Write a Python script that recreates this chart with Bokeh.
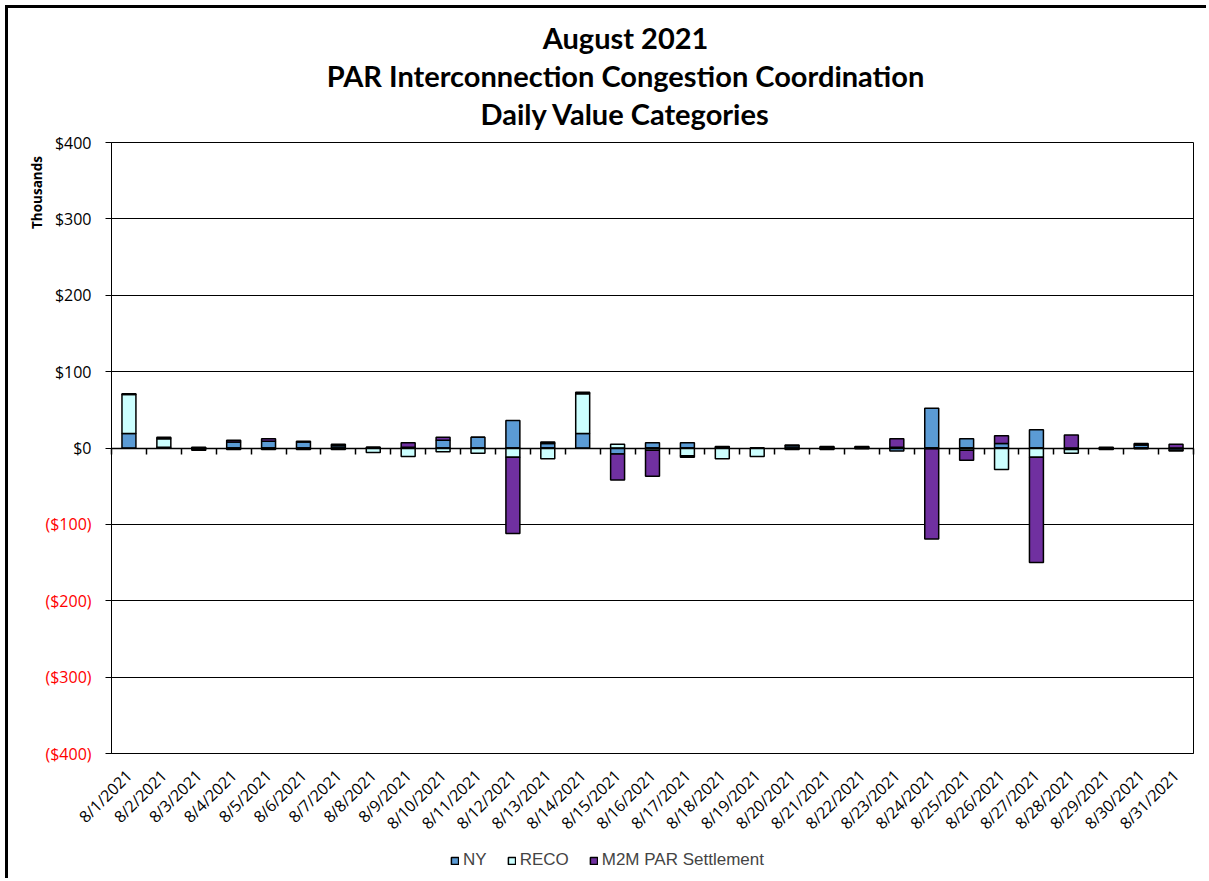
import math
from bokeh.plotting import figure
from bokeh.models import (ColumnDataSource, FixedTicker, LinearAxis, Range1d, Label,
                          Legend, LegendItem, Grid)
from bokeh.embed import file_html
from bokeh.resources import INLINE

# ---------------- data (thousands of $) ----------------
dates = ["8/1/2021", "8/2/2021", "8/3/2021", "8/4/2021", "8/5/2021", "8/6/2021",
         "8/7/2021", "8/8/2021", "8/9/2021", "8/10/2021", "8/11/2021", "8/12/2021",
         "8/13/2021", "8/14/2021", "8/15/2021", "8/16/2021", "8/17/2021", "8/18/2021",
         "8/19/2021", "8/20/2021", "8/21/2021", "8/22/2021", "8/23/2021", "8/24/2021",
         "8/25/2021", "8/26/2021", "8/27/2021", "8/28/2021", "8/29/2021", "8/30/2021",
         "8/31/2021"]
ny = [19, 1, 1, 8, 9, 8, 3, 1, 1, 10, 14, 36, 6, 19, -8, 7, 7, 1, 0, 3, 1, 1, -4,
      52, 12, 6, 24, -2, 1, 4, -3]
reco = [51, 11, -1, -2, -2, -2, -2, -6, -11, -5, -7, -12, -14, 52, 5, -3, -10, -14,
        -11, -2, -2, -1, 1, -1, -3, -28, -12, -5, -1, -1, -1]
m2m = [1, 2, -2, 2, 3, 1, 2, 0, 6, 4, 0, -100, 2, 2, -34, -34, -2, 1, 0, 1, 1, 1, 11,
       -118, -13, 10, -138, 17, -1, 2, 5]
series_names = ["NY", "RECO", "M2M PAR Settlement"]
series_colors = ["#5B9BD5", "#CCFFFF", "#7030A0"]
y_ticks = [-400, -300, -200, -100, 0, 100, 200, 300, 400]
y_tick_labels = ["($400)", "($300)", "($200)", "($100)", "$0", "$100", "$200", "$300", "$400"]
title_lines = ["August 2021", "PAR Interconnection Congestion Coordination",
               "Daily Value Categories"]
y_title = "Thousands"

TICK_FONT = "Open Sans"
TITLE_FONT = "Lato"

try:
    Label(x_units="canvas")
    UNITS = "canvas"
except Exception:
    UNITS = "screen"

# ---------------- layout (canvas pixels) ----------------
W, H = 1201, 873                 # canvas size (page offset 8 px by margin + border)
FL, FR, FT, FB = 103, 1185, 134, 745   # chart area edges on the canvas

n = len(dates)
x = list(range(1, n + 1))
XMIN, XMAX = 0.5, n + 0.5
YMIN, YMAX = y_ticks[0], y_ticks[-1]
xpp = (XMAX - XMIN) / (FR - FL)
ypp = (YMAX - YMIN) / (FB - FT)

p = figure(width=W, height=H,
           x_range=Range1d(XMIN - FL * xpp, XMAX + (W - FR) * xpp),
           y_range=Range1d(YMIN - (H - FB) * ypp, YMAX + FT * ypp),
           output_backend="svg", toolbar_location=None,
           x_axis_type=None, y_axis_type=None, min_border=0)
p.background_fill_color = "white"
p.border_fill_color = "white"
p.outline_line_color = None
p.styles = {"margin-left": "5px", "margin-top": "5px",
            "border-left": "3px solid black", "border-top": "3px solid black"}

# horizontal gridlines across the chart area
try:
    grid = Grid(dimension=1, ticker=FixedTicker(ticks=y_ticks), cross_bounds=(XMIN, XMAX),
                grid_line_color="black", grid_line_width=1)
    p.add_layout(grid)
except Exception:
    p.segment(x0=[XMIN] * len(y_ticks), x1=[XMAX] * len(y_ticks), y0=y_ticks, y1=y_ticks,
              line_color="black", line_width=1)

# stacked bars
pos_base = [0.0] * n
neg_base = [0.0] * n
renderers = []
for name, vals, col in zip(series_names, [ny, reco, m2m], series_colors):
    bottom, top = [], []
    for i, v in enumerate(vals):
        if v >= 0:
            bottom.append(pos_base[i]); top.append(pos_base[i] + v); pos_base[i] += v
        else:
            top.append(neg_base[i]); bottom.append(neg_base[i] + v); neg_base[i] += v
    src = ColumnDataSource(dict(x=x, bottom=bottom, top=top))
    r = p.vbar(x="x", bottom="bottom", top="top", width=0.4, source=src,
               fill_color=col, line_color="black", line_width=1.5)
    renderers.append(r)

common = dict(minor_tick_line_color=None, major_tick_in=0)

# y axis: black labels for >= 0, red labels for negatives
pos_t = [t for t in y_ticks if t >= 0]
neg_t = [t for t in y_ticks if t < 0]
lab = dict(zip(y_ticks, y_tick_labels))
y_black = LinearAxis(fixed_location=XMIN, bounds=(YMIN, YMAX),
                     ticker=FixedTicker(ticks=pos_t),
                     major_label_overrides={t: lab[t] for t in pos_t},
                     major_tick_out=6, axis_line_color="black",
                     major_tick_line_color="black", major_label_text_font=TICK_FONT,
                     major_label_text_font_size="16px", major_label_text_color="black",
                     major_label_standoff=14, **common)
y_red = LinearAxis(fixed_location=XMIN, bounds=(YMIN, YMAX),
                   ticker=FixedTicker(ticks=neg_t),
                   major_label_overrides={t: lab[t] for t in neg_t},
                   major_tick_out=6, axis_line_color="black",
                   major_tick_line_color="black", major_label_text_font=TICK_FONT,
                   major_label_text_font_size="16px", major_label_text_color="#FF0000",
                   major_label_standoff=14, **common)
p.add_layout(y_black, "left")
p.add_layout(y_red, "left")

# right border of the chart area
y_right = LinearAxis(fixed_location=XMAX, bounds=(YMIN, YMAX), ticker=FixedTicker(ticks=[]),
                     axis_line_color="black", major_tick_line_color=None,
                     major_label_text_font_size="0px", **common)
p.add_layout(y_right, "right")

# category labels along the bottom edge
x_lab = LinearAxis(fixed_location=YMIN, bounds=(XMIN, XMAX), ticker=FixedTicker(ticks=x),
                   major_label_overrides={i: d for i, d in zip(x, dates)},
                   major_label_orientation=math.pi / 4, major_tick_line_color=None,
                   axis_line_color="black", major_label_standoff=13,
                   major_label_text_font=TICK_FONT, major_label_text_font_size="16px",
                   major_label_text_color="black", **common)
p.add_layout(x_lab, "below")

# zero axis with ticks at category boundaries
bounds_t = [i + 0.5 for i in range(0, n + 1)]
x_zero = LinearAxis(fixed_location=0, bounds=(XMIN, XMAX), ticker=FixedTicker(ticks=bounds_t),
                    major_label_overrides={b: "" for b in bounds_t},
                    major_tick_out=6, axis_line_color="black", axis_line_width=1.5,
                    major_tick_line_color="black", major_tick_line_width=1.5, **common)
p.add_layout(x_zero, "below")

# titles
for k, t in enumerate(title_lines):
    p.add_layout(Label(x=614, y=26 + 38 * k, x_units=UNITS, y_units=UNITS,
                       text=t, text_align="center", text_baseline="middle",
                       text_font=TITLE_FONT, text_font_style="bold",
                       text_font_size="29px", text_color="black"))

p.add_layout(Label(x=25, y=181, x_units=UNITS, y_units=UNITS, text=y_title,
                   angle=math.pi / 2, text_align="center", text_baseline="middle",
                   text_font=TICK_FONT, text_font_style="bold", text_font_size="13.5px",
                   text_color="black"))

legend = Legend(items=[LegendItem(label=nm, renderers=[r]) for nm, r in zip(series_names, renderers)],
                orientation="horizontal", location=(442, 11), border_line_color=None,
                background_fill_alpha=0, glyph_width=9, glyph_height=9,
                label_text_font="Liberation Sans", label_text_font_size="17px",
                spacing=20, label_standoff=4, padding=0, margin=0)
p.add_layout(legend)

open("out.html", "w").write(file_html(p, INLINE))
